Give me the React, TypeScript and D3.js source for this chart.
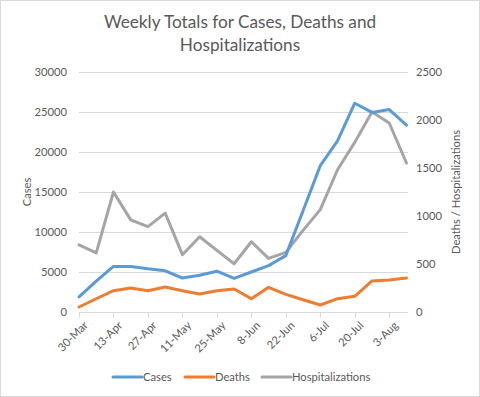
import React, { useEffect, useRef } from "react";
import * as d3 from "d3";

// weekly points, starting 30-Mar
const weekStarts = [
  "2020-03-30", "2020-04-06", "2020-04-13", "2020-04-20", "2020-04-27",
  "2020-05-04", "2020-05-11", "2020-05-18", "2020-05-25", "2020-06-01",
  "2020-06-08", "2020-06-15", "2020-06-22", "2020-06-29", "2020-07-06",
  "2020-07-13", "2020-07-20", "2020-07-27", "2020-08-03", "2020-08-10",
];
const cases = [
  1900, 3850, 5700, 5700, 5400, 5150, 4250, 4600, 5100, 4200,
  5000, 5800, 7050, 12650, 18300, 21400, 26100, 24950, 25300, 23350,
];
const deaths = [
  52, 138, 222, 250, 222, 260, 222, 187, 222, 240,
  139, 257, 184, 128, 73, 139, 163, 323, 333, 354,
];
const hospitalizations = [
  700, 615, 1250, 960, 890, 1030, 597, 784, 642, 503,
  732, 559, 621, 850, 1066, 1482, 1767, 2083, 1969, 1552,
];
const leftTicks = [0, 5000, 10000, 15000, 20000, 25000, 30000];
const rightTicks = [0, 500, 1000, 1500, 2000, 2500];
const labelDates = weekStarts.filter((_, i) => i % 2 === 0);

const W = 480;
const H = 397;
const font = "Lato, 'Open Sans', sans-serif";
const txt = "#595959";
const fs = 11.2;

export default function App() {
  const ref = useRef<SVGSVGElement>(null);

  useEffect(() => {
    const svg = d3.select(ref.current);
    svg.selectAll("*").remove();

    const parse = d3.utcParse("%Y-%m-%d");
    const dates = weekStarts.map((s) => parse(s) as Date);
    const fmt = d3.utcFormat("%-d-%b");

    const x = d3
      .scaleUtc()
      .domain([dates[0], d3.utcHour.offset(dates[dates.length - 1], 15)])
      .range([79, 408]);
    const yL = d3.scaleLinear().domain([0, 30000]).range([312, 72]);
    const yR = d3.scaleLinear().domain([0, 2500]).range([312, 72]);

    // border
    svg
      .append("rect")
      .attr("x", 0.5)
      .attr("y", 0.5)
      .attr("width", W - 1)
      .attr("height", H - 1)
      .attr("fill", "#fff")
      .attr("stroke", "#d9d9d9");

    // title
    const title = svg
      .append("text")
      .attr("text-anchor", "middle")
      .attr("font-family", font)
      .attr("font-size", 17.2)
      .attr("fill", txt);
    title.append("tspan").attr("x", 240).attr("y", 28).text("Weekly Totals for Cases, Deaths and");
    title.append("tspan").attr("x", 240).attr("y", 51).text("Hospitalizations");

    // gridlines
    svg
      .append("g")
      .selectAll("line")
      .data(leftTicks.slice(1))
      .join("line")
      .attr("x1", 79)
      .attr("x2", 408)
      .attr("y1", (d) => Math.round(yL(d)) + 0.5)
      .attr("y2", (d) => Math.round(yL(d)) + 0.5)
      .attr("stroke", "#d9d9d9");

    // bottom axis
    const xAxis = svg.append("g").attr("transform", "translate(0,312.5)");
    xAxis
      .append("line")
      .attr("x1", 79)
      .attr("x2", 408)
      .attr("stroke", "#d9d9d9");
    const labelDateObjs = labelDates.map((s) => parse(s) as Date);
    xAxis
      .selectAll("line.tick")
      .data(labelDateObjs)
      .join("line")
      .attr("class", "tick")
      .attr("x1", (d) => Math.round(x(d)) + 0.5)
      .attr("x2", (d) => Math.round(x(d)) + 0.5)
      .attr("y1", 0)
      .attr("y2", 5)
      .attr("stroke", "#d9d9d9");
    xAxis
      .selectAll("text")
      .data(labelDateObjs.slice(0, 10))
      .join("text")
      .attr("transform", (d) => `translate(${x(d) + 4},8) rotate(-45)`)
      .attr("text-anchor", "end")
      .attr("dy", "0.7em")
      .attr("font-family", font)
      .attr("font-size", fs)
      .attr("fill", txt)
      .text((d) => fmt(d));

    // left labels
    svg
      .append("g")
      .selectAll("text")
      .data(leftTicks)
      .join("text")
      .attr("x", 67)
      .attr("y", (d) => yL(d))
      .attr("dy", "0.35em")
      .attr("text-anchor", "end")
      .attr("font-family", font)
      .attr("font-size", fs)
      .attr("fill", txt)
      .text((d) => String(d));

    // right labels
    svg
      .append("g")
      .selectAll("text")
      .data(rightTicks)
      .join("text")
      .attr("x", 416)
      .attr("y", (d) => yR(d))
      .attr("dy", "0.35em")
      .attr("font-family", font)
      .attr("font-size", fs)
      .attr("fill", txt)
      .text((d) => String(d));

    // axis titles
    svg
      .append("text")
      .attr("transform", "translate(31,192) rotate(-90)")
      .attr("text-anchor", "middle")
      .attr("font-family", font)
      .attr("font-size", fs)
      .attr("fill", txt)
      .text("Cases");
    svg
      .append("text")
      .attr("transform", "translate(460,192) rotate(-90)")
      .attr("text-anchor", "middle")
      .attr("font-family", font)
      .attr("font-size", fs)
      .attr("fill", txt)
      .text("Deaths / Hospitalizations");

    const series = [
      { name: "Cases", values: cases, y: yL, color: "#5b9bd5" },
      { name: "Deaths", values: deaths, y: yR, color: "#ed7d31" },
      { name: "Hospitalizations", values: hospitalizations, y: yR, color: "#a5a5a5" },
    ];
    const drawOrder = [series[2], series[0], series[1]];

    drawOrder.forEach((s) => {
      const line = d3
        .line<number>()
        .x((_, i) => x(dates[i]))
        .y((d) => s.y(d));
      svg
        .append("path")
        .attr("d", line(s.values))
        .attr("fill", "none")
        .attr("stroke", s.color)
        .attr("stroke-width", 3)
        .attr("stroke-linejoin", "round")
        .attr("stroke-linecap", "round");
    });

    // legend
    const legendX = [113, 185, 262];
    const lg = svg
      .append("g")
      .selectAll("g")
      .data(series)
      .join("g")
      .attr("transform", (_, i) => `translate(${legendX[i]},377)`);
    lg.append("line")
      .attr("x1", 0)
      .attr("x2", 29)
      .attr("stroke", (d) => d.color)
      .attr("stroke-width", 3)
      .attr("stroke-linecap", "round");
    lg.append("text")
      .attr("x", 30)
      .attr("dy", "0.35em")
      .attr("font-family", font)
      .attr("font-size", fs)
      .attr("fill", txt)
      .text((d) => d.name);
  }, []);

  return (
    <svg
      ref={ref}
      width={W}
      height={H}
      style={{ display: "block", position: "absolute", left: 0, top: 0 }}
    />
  );
}
